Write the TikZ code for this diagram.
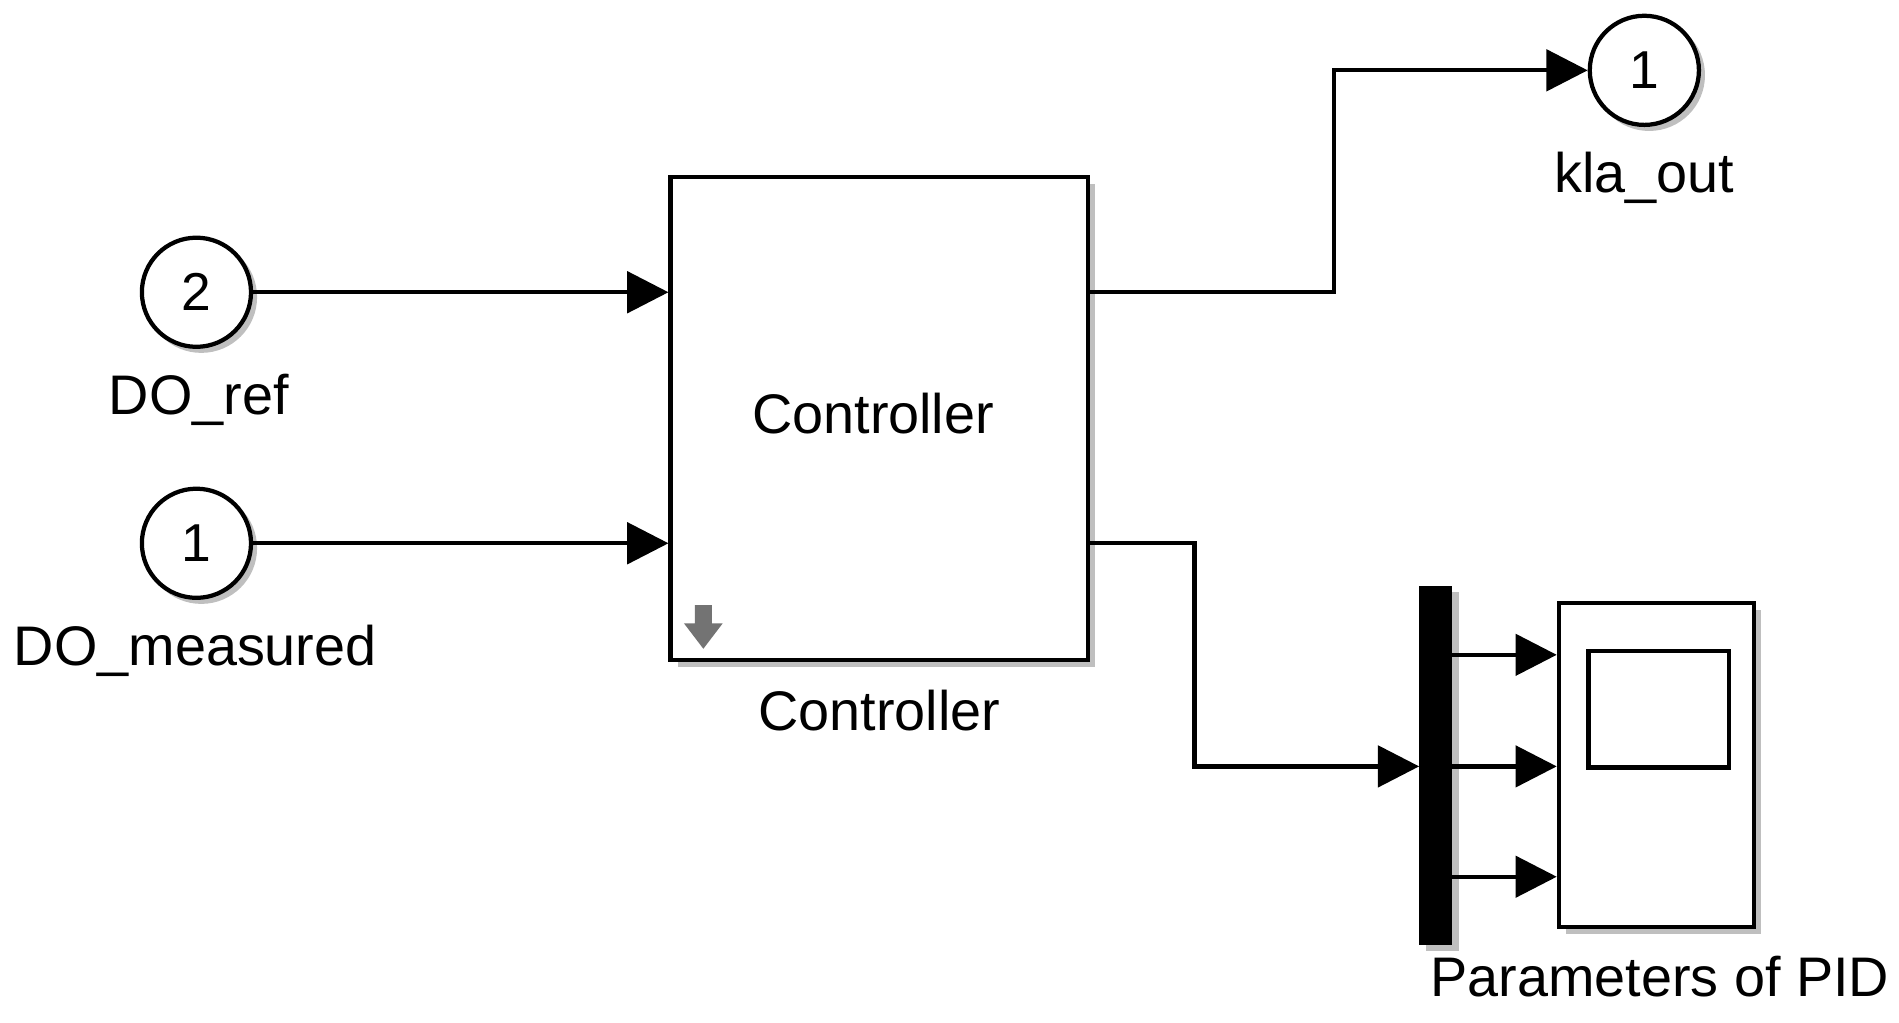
\documentclass[tikz,border=0pt]{standalone}
\usepackage{fontspec}
\setmainfont{Liberation Sans}
\usetikzlibrary{arrows.meta}
\begin{document}
\begin{tikzpicture}[x=1pt,y=-1pt,
  wire/.style={line width=3.5pt,-{Triangle[length=34pt,width=34pt]}},
  port/.style={circle,draw,line width=3.5pt,minimum size=90pt,inner sep=0pt,fill=white,font=\fontsize{44}{46}\selectfont},
  lbl/.style={font=\fontsize{46}{48}\selectfont},
  shadow/.style={fill=black!25}]
\useasboundingbox (0,0) rectangle (1566,843);
% shadows
\fill[shadow] (559,152) rectangle (903,550);
\fill[shadow] (1291,503) rectangle (1452,770);
\fill[shadow] (1176,488) rectangle (1203,784);
\fill[shadow] (166,245) circle (46);
\fill[shadow] (166,452) circle (46);
\fill[shadow] (1360,62) circle (46);
% blocks
\node[draw,line width=3.5pt,fill=white,minimum width=344pt,minimum height=398pt,inner sep=0pt] (ctrl) at (725,345) {};
\node[lbl] (ctrlt) at (720,341) {Controller};
\node[lbl] (ctrll) at (725,586) {Controller};
\node[port] (in2) at (162,241) {2};
\node[lbl] (in2l) at (164,330) {DO\_ref};
\node[port] (in1) at (162,448) {1};
\node[lbl] (in1l) at (161,537) {DO\_measured};
\node[port] (out1) at (1356,58) {1};
\node[lbl] (out1l) at (1356,147) {kla\_out};
\node[fill=black,minimum width=27pt,minimum height=296pt,inner sep=0pt] (bus) at (1184,631) {};
\node[draw,line width=3.5pt,fill=white,minimum width=161pt,minimum height=267pt,inner sep=0pt] (scope) at (1366,631) {};
\node[draw,line width=3.5pt,minimum width=116pt,minimum height=96pt,inner sep=0pt] (screen) at (1368,585) {};
\node[lbl,anchor=west] (scopel) at (1176,805) {Parameters of PID};
% icon
\fill[black!55] (573,499) -- (587,499) -- (587,514) -- (596,514) -- (580,535) -- (564,514) -- (573,514) -- cycle;
% wires
\coordinate (c1a) at (897,241); \coordinate (c2a) at (897,448);
\draw[wire] (in2.east) -- (ctrl.west |- in2);
\draw[wire] (in1.east) -- (ctrl.west |- in1);
\draw[wire] (c1a) -- (1100,241) -- (1100,58) -- (out1.west);
\draw[wire] (c2a) -- (985,448) -- (985,632) -- (bus.west |- 0,632);
\foreach \yy in {540,632,723}
  \draw[wire] (bus.east |- 0,\yy) -- (scope.west |- 0,\yy);
\end{tikzpicture}
\end{document}
